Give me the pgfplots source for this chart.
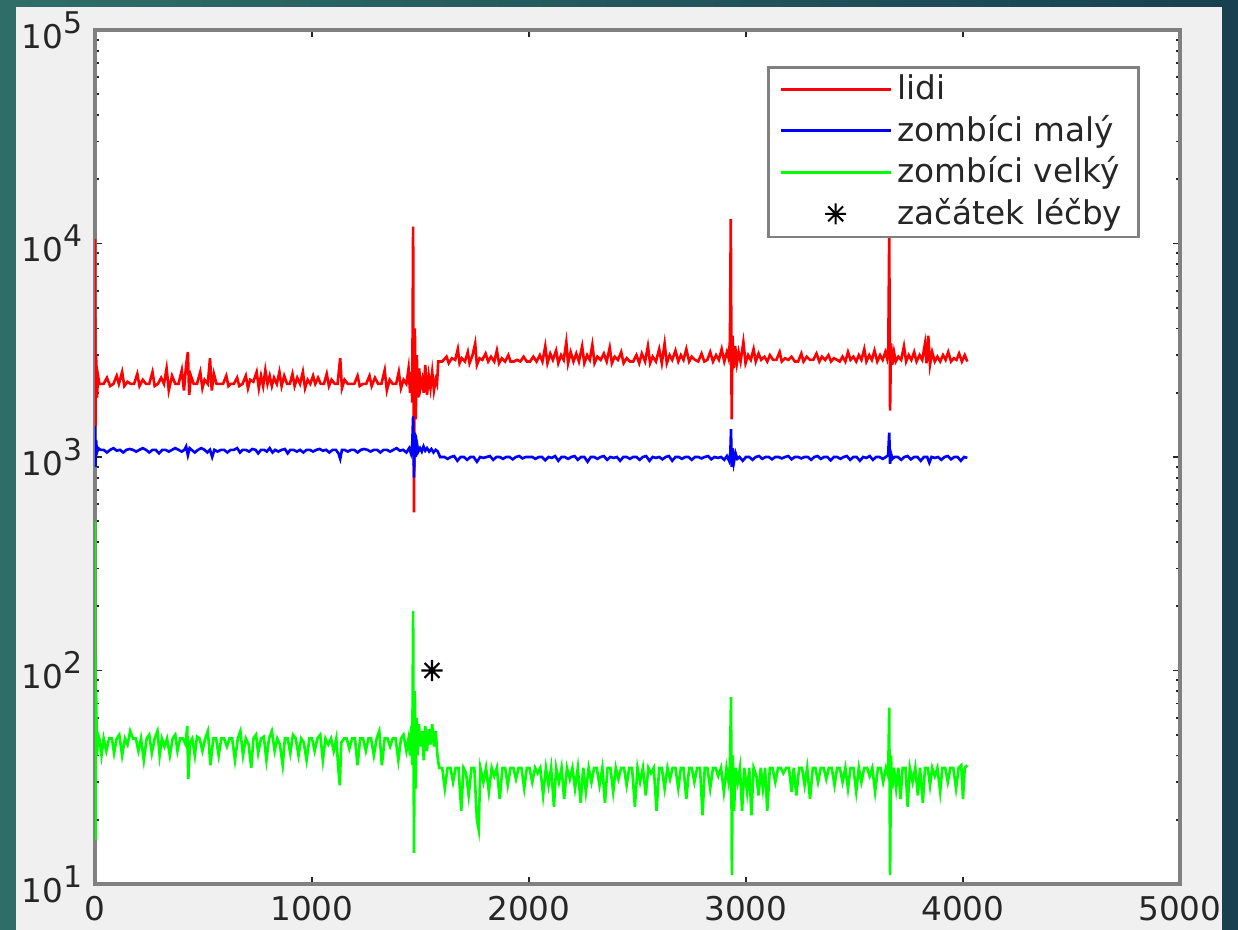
\documentclass[border=0pt]{standalone}
\usepackage{fontspec}
\setmainfont{DejaVu Sans}
\usepackage{pgfplots}
\pgfplotsset{compat=1.18}

\definecolor{tealL}{RGB}{47,110,104}
\definecolor{tealR}{RGB}{24,64,80}
\definecolor{figbg}{RGB}{240,240,240}
\definecolor{axgray}{RGB}{128,128,128}
\definecolor{txt}{RGB}{38,38,38}

\pgfdeclareplotmark{mstar}{%
  \pgfpathmoveto{\pgfqpoint{0pt}{\pgfplotmarksize}}\pgfpathlineto{\pgfqpoint{0pt}{-\pgfplotmarksize}}%
  \pgfpathmoveto{\pgfqpoint{\pgfplotmarksize}{0pt}}\pgfpathlineto{\pgfqpoint{-\pgfplotmarksize}{0pt}}%
  \pgfpathmoveto{\pgfqpoint{.707\pgfplotmarksize}{.707\pgfplotmarksize}}\pgfpathlineto{\pgfqpoint{-.707\pgfplotmarksize}{-.707\pgfplotmarksize}}%
  \pgfpathmoveto{\pgfqpoint{-.707\pgfplotmarksize}{.707\pgfplotmarksize}}\pgfpathlineto{\pgfqpoint{.707\pgfplotmarksize}{-.707\pgfplotmarksize}}%
  \pgfusepathqstroke}

\pgfplotsset{starlegend/.style={legend image code/.code={\path (0cm,0cm) (1.1cm,0cm); \draw[##1] plot coordinates {(0.55cm,0cm)};}}}

\newcommand{\tp}[1]{10\raisebox{0.85ex}{\fontsize{8.5}{8.5}\selectfont #1}}

\begin{document}
\begin{tikzpicture}
\shade[left color=tealL, right color=tealR] (0,0) rectangle (12.38,9.30);
\fill[figbg] (0.16,0) rectangle (12.22,9.23);

\begin{axis}[
  at={(0.95cm,0.46cm)}, anchor=south west,
  scale only axis,
  width=10.85cm, height=8.54cm,
  ymode=log,
  xmin=0, xmax=5000, ymin=10, ymax=100000,
  xtick={0,1000,...,5000},
  ytick={10,100,1000,10000,100000},
  yticklabels={\tp{1},\tp{2},\tp{3},\tp{4},\tp{5}},
  /pgf/number format/assume math mode=true,
  /pgf/number format/1000 sep={},
  tick label style={font=\fontsize{9.3}{11}\selectfont, text=txt},
  axis line style={axgray, line width=0.9pt},
  tick style={black!85, line width=0.5pt},
  major tick length=0.07cm,
  minor tick length=0.04cm,
  tick align=inside,
  axis background/.style={fill=white},
  legend cell align=left,
  legend style={at={(rel axis cs:0.963,0.958)}, anchor=north east,
    draw=axgray, line width=0.8pt, fill=white,
    font=\fontsize{9.3}{11}\selectfont, text=txt,
    inner xsep=3pt, inner ysep=0.5pt, row sep=-0.3pt,
    nodes={inner sep=1.6pt}},
  legend image code/.code={\draw[#1] (0cm,0cm) -- (1.1cm,0cm);},
]

\addplot[red, line width=0.75pt] coordinates {
(0,10500) (2,1400) (5,3000) (9,1900) (14,2400) (20,2200) (40,2200) (55,2350) (70,2150) (85,2200) (100,2400) (110,2200) (125,2500) (135,2150) (150,2250) (165,2200) (180,2200) (195,2450) (205,2150) (220,2300) (235,2200) (250,2200) (265,2500) (275,2150) (290,2200) (305,2350) (318,2200) (330,2600) (340,2050) (355,2400) (370,2200) (385,2200) (400,2550) (410,2050) (420,2700) (428,3100) (434,1950) (442,2400) (455,2200) (470,2200) (485,2500) (495,2100) (505,2300) (520,2200) (530,2900) (538,2050) (548,2450) (560,2200) (575,2200) (590,2200) (605,2400) (615,2150) (625,2200) (640,2200) (655,2350) (665,2150) (680,2200) (695,2400) (705,2100) (715,2300) (730,2250) (745,2500) (755,2100) (765,2400) (775,2150) (785,2550) (795,2200) (805,2400) (815,2150) (825,2350) (838,2200) (850,2500) (860,2150) (872,2400) (885,2200) (898,2200) (910,2450) (920,2150) (932,2350) (945,2200) (958,2500) (968,2100) (980,2300) (992,2200) (1005,2400) (1015,2200) (1028,2350) (1040,2200) (1055,2200) (1068,2450) (1078,2150) (1090,2300) (1105,2200) (1118,2200) (1130,2900) (1138,2100) (1150,2300) (1165,2200) (1180,2200) (1195,2200) (1210,2400) (1220,2150) (1235,2200) (1250,2200) (1265,2400) (1275,2150) (1290,2350) (1305,2200) (1320,2200) (1335,2550) (1345,2050) (1358,2300) (1372,2200) (1388,2200) (1400,2500) (1410,2100) (1422,2300) (1435,2200) (1445,2600) (1452,2000) (1458,2500) (1462,1800) (1466,12000) (1470,550) (1474,4000) (1478,1500) (1483,3000) (1488,1900) (1494,2600) (1500,2100) (1508,2300) (1515,2000) (1522,2700) (1530,1950) (1538,2400) (1546,2100) (1554,2500) (1562,2050) (1570,2300) (1576,2200) (1582,2800) (1600,2800) (1620,2950) (1630,2750) (1645,2900) (1660,2850) (1672,3200) (1680,2750) (1690,2900) (1705,2800) (1718,3100) (1726,2750) (1740,3000) (1752,3400) (1760,2700) (1772,2900) (1785,2850) (1800,3050) (1812,2800) (1825,2950) (1840,2800) (1852,3150) (1862,2750) (1875,2900) (1890,2800) (1905,3000) (1915,2800) (1930,2800) (1945,2850) (1960,2800) (1975,2950) (1990,2800) (2005,2800) (2020,2950) (2035,2800) (2050,3000) (2062,2800) (2075,3300) (2085,2750) (2098,3050) (2110,2850) (2125,3150) (2135,2750) (2148,3000) (2160,2850) (2172,3450) (2180,2750) (2192,3100) (2205,2800) (2218,3050) (2230,2800) (2245,3300) (2255,2750) (2268,3000) (2280,2850) (2292,3350) (2302,2750) (2315,2950) (2330,2850) (2345,3050) (2358,2800) (2372,3250) (2382,2750) (2395,2950) (2410,2850) (2425,3100) (2436,2750) (2450,2900) (2465,2800) (2480,2800) (2495,3000) (2508,2750) (2520,3050) (2535,2800) (2548,3300) (2558,2750) (2570,2950) (2585,2800) (2600,3200) (2612,2750) (2625,3400) (2635,2750) (2648,3000) (2660,2850) (2675,3150) (2688,2800) (2700,3000) (2712,2850) (2725,3200) (2738,2800) (2750,2950) (2765,2850) (2780,2800) (2795,3050) (2808,2800) (2822,2850) (2835,3100) (2848,2800) (2862,3000) (2875,2850) (2888,3200) (2900,2800) (2912,3100) (2920,2900) (2926,3500) (2930,13000) (2934,1500) (2938,3700) (2944,2600) (2950,3300) (2958,2750) (2966,3100) (2975,2800) (2988,3450) (2998,2750) (3010,3000) (3022,2850) (3035,3200) (3045,2800) (3058,3050) (3070,2850) (3085,2950) (3098,2800) (3110,3000) (3125,2850) (3140,2850) (3155,3100) (3165,2800) (3180,2900) (3195,2850) (3210,2950) (3225,2800) (3240,2800) (3255,3050) (3265,2800) (3280,2950) (3295,2850) (3310,2850) (3325,3050) (3338,2800) (3350,2950) (3365,2850) (3380,3000) (3392,2800) (3405,2900) (3420,2850) (3432,2800) (3445,2950) (3458,2800) (3470,3100) (3482,2850) (3495,2950) (3508,2800) (3520,3000) (3532,2850) (3545,3200) (3555,2800) (3568,3000) (3580,2850) (3592,3150) (3605,2800) (3618,3000) (3630,2850) (3642,3100) (3650,2900) (3656,3300) (3660,11000) (3664,1650) (3668,3400) (3674,2700) (3682,3100) (3690,2800) (3702,2950) (3715,2850) (3728,3300) (3738,2800) (3750,3000) (3762,2850) (3775,3100) (3786,2800) (3800,3000) (3812,2850) (3825,3400) (3832,2750) (3840,3700) (3848,2700) (3858,3100) (3870,2800) (3882,2950) (3895,2800) (3908,3000) (3920,2850) (3932,3100) (3945,2800) (3958,2900) (3970,2850) (3982,3050) (3995,2800) (4008,3000) (4020,2800)
};
\addlegendentry{lidi}

\addplot[blue, line width=0.75pt] coordinates {
(0,1400) (2,900) (5,1200) (9,1050) (15,1100) (25,1080) (40,1080) (55,1050) (70,1080) (85,1100) (100,1070) (115,1080) (130,1050) (145,1080) (160,1090) (175,1080) (190,1060) (205,1080) (220,1100) (235,1080) (250,1050) (265,1080) (280,1080) (295,1040) (310,1080) (325,1080) (340,1060) (355,1080) (370,1100) (385,1080) (400,1060) (412,1080) (420,1120) (428,1020) (436,1100) (445,1080) (460,1050) (475,1080) (490,1100) (505,1080) (518,1050) (530,1080) (540,1000) (550,1080) (565,1060) (580,1080) (595,1080) (610,1050) (625,1080) (640,1080) (655,1100) (668,1050) (680,1080) (695,1080) (710,1060) (725,1090) (740,1080) (752,1040) (765,1080) (780,1080) (792,1060) (805,1100) (818,1050) (830,1080) (845,1060) (860,1080) (875,1090) (888,1040) (900,1080) (915,1080) (930,1060) (945,1080) (960,1050) (975,1080) (990,1080) (1005,1060) (1020,1080) (1035,1090) (1050,1070) (1065,1080) (1080,1050) (1095,1080) (1110,1080) (1122,1040) (1130,980) (1138,1080) (1150,1080) (1165,1060) (1180,1080) (1195,1080) (1210,1050) (1225,1080) (1240,1090) (1255,1080) (1270,1060) (1285,1080) (1300,1080) (1315,1050) (1330,1080) (1345,1080) (1360,1060) (1375,1080) (1390,1100) (1405,1070) (1420,1080) (1435,1050) (1448,1100) (1456,1040) (1462,1150) (1466,1550) (1470,800) (1474,1300) (1478,1000) (1484,1150) (1490,1060) (1498,1100) (1506,1060) (1514,1120) (1522,1070) (1530,1100) (1540,1060) (1550,1090) (1560,1050) (1570,1080) (1580,1060) (1590,1000) (1610,1000) (1625,980) (1640,1000) (1655,1010) (1670,960) (1685,1000) (1700,1000) (1715,970) (1730,1000) (1745,1000) (1760,950) (1775,1000) (1790,990) (1805,1000) (1820,1010) (1835,970) (1850,1000) (1865,1000) (1880,980) (1895,1000) (1910,1000) (1925,975) (1940,1000) (1955,1010) (1970,985) (1985,1000) (2000,1000) (2015,1000) (2030,980) (2045,1000) (2060,1000) (2075,965) (2090,1000) (2105,990) (2120,1010) (2135,960) (2150,1000) (2165,1000) (2180,980) (2195,1000) (2210,1010) (2225,970) (2240,1000) (2255,1000) (2270,950) (2285,1000) (2300,1000) (2315,980) (2330,1000) (2345,1010) (2360,970) (2375,1000) (2390,990) (2405,1000) (2420,960) (2435,1000) (2450,1000) (2465,980) (2480,1000) (2495,1000) (2510,970) (2525,1000) (2540,1010) (2555,960) (2570,1000) (2585,990) (2600,1000) (2615,975) (2630,1000) (2645,1010) (2660,960) (2675,1000) (2690,1000) (2705,980) (2720,1000) (2735,1000) (2750,970) (2765,1000) (2780,1000) (2795,985) (2810,1000) (2825,1010) (2840,975) (2855,1000) (2870,990) (2885,1000) (2900,970) (2912,1010) (2922,960) (2928,1050) (2931,1350) (2934,900) (2938,1100) (2944,940) (2952,1040) (2960,980) (2970,1000) (2985,960) (3000,1000) (3015,1000) (3030,970) (3045,1000) (3060,1010) (3075,980) (3090,1000) (3105,1000) (3120,975) (3135,1000) (3150,1000) (3165,985) (3180,1000) (3195,1010) (3210,975) (3225,1000) (3240,1000) (3255,985) (3270,1000) (3285,1000) (3300,970) (3315,1000) (3330,1010) (3345,980) (3360,1000) (3375,1000) (3390,965) (3405,1000) (3420,1000) (3435,980) (3450,1000) (3465,1010) (3480,970) (3495,1000) (3510,1000) (3525,960) (3540,1000) (3555,990) (3570,1010) (3585,970) (3600,1000) (3615,1000) (3630,980) (3645,1000) (3655,1020) (3660,1300) (3664,930) (3668,1040) (3675,980) (3685,1000) (3700,1000) (3715,970) (3730,1000) (3745,1010) (3760,975) (3775,1000) (3790,1000) (3805,960) (3820,1000) (3835,1000) (3845,940) (3855,1000) (3870,990) (3885,1000) (3900,970) (3915,1000) (3930,1010) (3945,975) (3960,1000) (3975,1000) (3990,960) (4005,1000) (4020,990)
};
\addlegendentry{zombíci malý}

\addplot[green, line width=0.75pt] coordinates {
(0,500) (2,16) (5,80) (9,40) (14,50) (20,48) (30,40) (40,48) (52,42) (65,48) (78,48) (88,41) (100,48) (112,50) (125,40) (138,48) (150,45) (162,52) (175,48) (188,48) (200,42) (212,48) (225,38) (238,48) (250,50) (262,41) (275,48) (288,52) (298,40) (308,48) (320,44) (332,48) (345,40) (358,48) (370,50) (380,42) (392,48) (405,48) (418,45) (425,55) (430,31) (438,46) (448,48) (460,40) (470,49) (482,48) (495,42) (508,48) (520,52) (532,36) (545,48) (558,48) (570,40) (582,48) (595,48) (608,44) (620,48) (632,48) (645,38) (658,48) (670,52) (682,40) (695,48) (708,45) (720,35) (730,48) (742,50) (752,41) (765,48) (778,49) (790,38) (802,48) (815,52) (828,42) (840,48) (852,45) (865,36) (875,48) (888,48) (900,41) (912,50) (925,48) (938,40) (950,48) (962,46) (975,38) (988,48) (1000,48) (1012,42) (1025,48) (1038,50) (1050,38) (1062,48) (1075,45) (1088,48) (1100,42) (1112,48) (1122,34) (1128,29) (1135,46) (1148,48) (1160,48) (1172,43) (1185,48) (1198,48) (1210,36) (1222,48) (1235,48) (1248,42) (1260,48) (1272,48) (1285,40) (1298,48) (1310,52) (1322,36) (1335,48) (1348,48) (1360,44) (1372,48) (1385,48) (1398,38) (1410,48) (1422,50) (1435,42) (1445,48) (1452,40) (1458,55) (1462,36) (1466,190) (1470,14) (1474,80) (1478,28) (1482,60) (1487,40) (1493,56) (1500,44) (1508,52) (1515,38) (1522,55) (1530,42) (1538,53) (1546,45) (1554,56) (1562,44) (1570,52) (1578,40) (1586,35) (1600,35) (1612,28) (1625,35) (1638,35) (1650,30) (1662,35) (1675,35) (1688,22) (1698,35) (1710,33) (1722,26) (1735,35) (1748,35) (1760,20) (1768,18) (1776,35) (1790,30) (1802,35) (1815,27) (1828,35) (1840,32) (1852,35) (1865,25) (1878,35) (1890,35) (1902,29) (1915,35) (1928,35) (1940,31) (1952,35) (1965,35) (1978,28) (1990,35) (2002,35) (2015,30) (2028,35) (2040,33) (2052,35) (2065,26) (2078,35) (2090,29) (2102,35) (2115,23) (2125,35) (2138,30) (2150,35) (2162,25) (2175,35) (2188,31) (2200,35) (2212,28) (2225,35) (2238,24) (2250,35) (2262,27) (2275,35) (2288,30) (2300,35) (2312,35) (2325,29) (2338,35) (2350,24) (2362,35) (2375,35) (2388,27) (2400,35) (2412,31) (2425,35) (2438,35) (2450,29) (2462,35) (2475,35) (2488,23) (2500,35) (2512,30) (2525,35) (2538,26) (2550,35) (2562,33) (2575,35) (2588,22) (2600,35) (2612,35) (2625,28) (2638,35) (2650,31) (2662,35) (2675,35) (2688,28) (2700,35) (2712,35) (2725,25) (2738,35) (2750,35) (2762,30) (2775,35) (2788,35) (2800,21) (2810,35) (2822,35) (2835,28) (2848,35) (2860,35) (2872,32) (2885,35) (2898,27) (2910,35) (2920,30) (2926,36) (2931,75) (2935,11) (2939,40) (2945,22) (2952,35) (2962,30) (2972,35) (2982,22) (2992,35) (3005,27) (3015,35) (3025,21) (3035,35) (3048,32) (3058,26) (3068,35) (3078,28) (3088,35) (3098,22) (3110,35) (3122,35) (3135,30) (3148,35) (3160,35) (3172,33) (3185,35) (3198,35) (3210,27) (3220,35) (3232,26) (3245,35) (3258,35) (3270,29) (3282,35) (3295,25) (3308,35) (3320,35) (3332,30) (3345,35) (3358,35) (3370,31) (3382,35) (3395,35) (3408,29) (3420,35) (3432,35) (3445,30) (3458,35) (3470,28) (3482,35) (3495,35) (3508,27) (3520,35) (3532,30) (3545,35) (3558,35) (3570,32) (3582,35) (3595,27) (3608,35) (3620,35) (3632,30) (3645,35) (3652,33) (3656,36) (3660,67) (3664,11) (3668,40) (3674,28) (3682,35) (3692,28) (3702,35) (3712,25) (3722,35) (3735,35) (3745,23) (3755,35) (3768,30) (3780,35) (3792,26) (3802,35) (3815,24) (3825,35) (3838,35) (3848,29) (3858,35) (3870,32) (3882,35) (3895,27) (3905,35) (3918,35) (3930,30) (3942,35) (3955,35) (3968,28) (3980,35) (3992,36) (4000,25) (4008,35) (4020,36)
};
\addlegendentry{zombíci velký}

\addplot[only marks, black, mark=mstar, mark size=3pt, line width=0.6pt, starlegend]
  coordinates {(1553,100)};
\addlegendentry{začátek léčby}

\end{axis}
\pgfresetboundingbox
\useasboundingbox (0,0) rectangle (12.38,9.30);
\end{tikzpicture}
\end{document}
